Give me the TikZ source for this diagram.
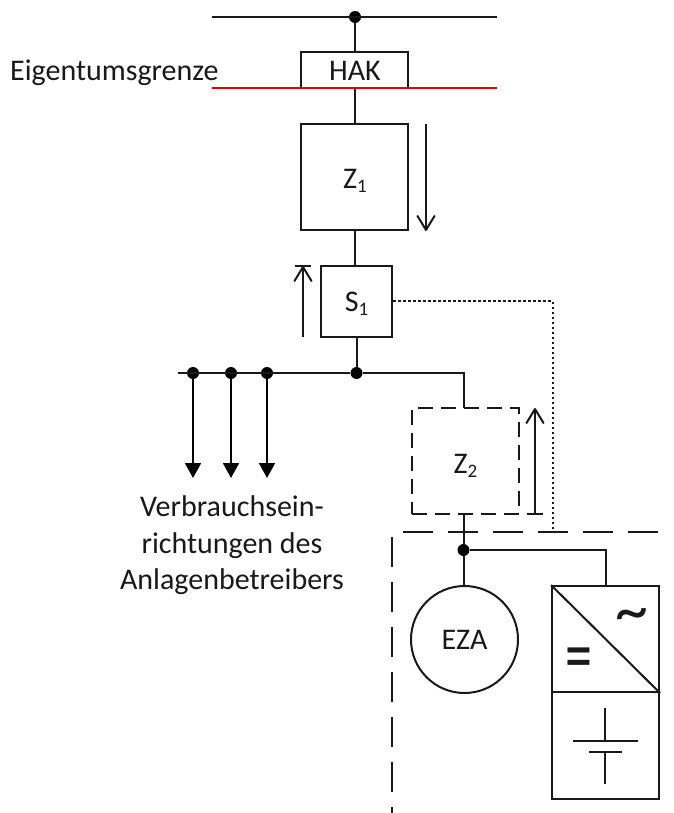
\documentclass[tikz,border=0pt]{standalone}
\usepackage{fontspec}
\setmainfont{Carlito}
\usetikzlibrary{arrows.meta}
\newcommand{\lbl}{\fontsize{30}{36.5}\selectfont}
\newcommand{\sbs}[1]{\raisebox{-4pt}{\fontsize{19}{20}\selectfont #1}}
\tikzset{
 x=1pt,y=-1pt,
 wire/.style={line width=2pt,black!90},
 box/.style={draw,line width=2pt,black!90,rectangle,inner sep=0pt,anchor=center,font=\lbl,text=black!90},
 dashbox/.style={box,dash pattern=on 15pt off 8pt},
 junction/.style={circle,fill=black,inner sep=0pt,minimum size=12pt},
 txt/.style={font=\lbl,text=black!90,inner sep=0pt},
 openarrow/.style={line width=2pt,black!90,-{Straight Barb[length=14pt,width=17pt,line width=2pt,round]}},
 loadarrow/.style={line width=2pt,black,-{Triangle[length=15pt,width=16pt]}},
 longdash/.style={line width=1.8pt,black!90,dash pattern=on 30pt off 15pt},
 dottedline/.style={line width=2pt,black!90,dash pattern=on 2.5pt off 2.5pt}
}
\begin{document}
\begin{tikzpicture}
\useasboundingbox (0,0) rectangle (673,813);
\fill[white] (0,0) rectangle (673,813);
% busbars
\coordinate (gl) at (212,17); \coordinate (gr) at (497,17);
\coordinate (rl) at (212,88); \coordinate (rr) at (497,88);
\node[junction] (top) at (355,17) {};
\draw[wire] (gl) -- (gr);
% boxes
\node[box,minimum width=107pt,minimum height=36pt] (hak) at (354.5,70) {};
\node[txt] (hakt) at (355,71) {HAK};
\node[box,minimum width=107pt,minimum height=106pt] (z1) at (354.5,177) {};
\node[txt] (z1t) at (355,181) {Z\sbs{1}};
\node[box,minimum width=71pt,minimum height=71pt] (s1) at (356.5,301.5) {};
\node[txt] (s1t) at (356.5,304) {S\sbs{1}};
\node[dashbox,minimum width=107pt,minimum height=106pt] (z2) at (465.5,461) {};
\node[txt] (z2t) at (465.5,466) {Z\sbs{2}};
\node[box,circle,minimum size=107pt] (eza) at (464.5,639.5) {EZA};
\node[box,minimum width=107pt,minimum height=106pt] (conv) at (605.5,639) {};
\node[box,minimum width=107pt,minimum height=107pt] (batt) at (605.5,745.5) {};
\draw[wire] (conv.north west) -- (conv.south east);
\node[txt,font=\fontsize{54}{54}\selectfont] (eq) at (578.5,665) {\scalebox{1}[1.45]{=}};
\node[txt,font=\fontsize{66}{66}\selectfont] (tilde) at (632,621) {\textasciitilde};
% battery
\coordinate (b1) at (605,708); \coordinate (b2) at (605,741);
\coordinate (b3) at (605,752); \coordinate (b4) at (605,784);
\coordinate (p1l) at (573,741); \coordinate (p1r) at (638,741);
\coordinate (p2l) at (589,752); \coordinate (p2r) at (622,752);
\draw[wire] (b1) -- (b2) (b3) -- (b4) (p1l) -- (p1r) (p2l) -- (p2r);
% connectors
\draw[wire] (top) -- (top |- hak.north);
\draw[wire] (hak.south) -- (z1.north);
\draw[wire] (z1.south) -- (z1.south |- s1.north);
\node[junction] (n1) at (356.5,373) {};
\draw[wire] (s1.south) -- (n1);
\node[junction] (l1) at (193,373) {};
\node[junction] (l2) at (231,373) {};
\node[junction] (l3) at (267,373) {};
\coordinate (lbeg) at (178,373);
\coordinate (e1) at (193,478); \coordinate (e2) at (231,478); \coordinate (e3) at (267,478);
\draw[wire] (lbeg) -- (n1) -| (463.5,408);
\draw[loadarrow] (l1) -- (e1);
\draw[loadarrow] (l2) -- (e2);
\draw[loadarrow] (l3) -- (e3);
\node[junction] (n2) at (463.5,550) {};
\draw[wire] (463.5,514) -- (n2);
\draw[wire] (n2) -- (n2 |- eza.north);
\draw[wire] (n2) -| (conv.north);
% red line
\draw[line width=2pt,red!90!black] (rl) -- (rr);
% measuring arrows
\coordinate (a1s) at (426,124); \coordinate (a1e) at (426,231);
\draw[openarrow] (a1s) -- (a1e);
\coordinate (a2s) at (303,337); \coordinate (a2e) at (303,266);
\draw[openarrow] (a2s) -- (a2e);
\coordinate (t2l) at (295,266); \coordinate (t2r) at (311,266);
\draw[wire] (t2l) -- (t2r);
\coordinate (a3s) at (535,514); \coordinate (a3e) at (535,408);
\draw[openarrow] (a3s) -- (a3e);
\coordinate (t3l) at (527,514); \coordinate (t3r) at (543,514);
\draw[wire] (t3l) -- (t3r);
% dotted control line and long dashed boundary
\coordinate (dc) at (552.5,301); \coordinate (de) at (552.5,532);
\draw[dottedline] (s1.east |- dc) -- (dc) -- (de);
\coordinate (hs) at (403,532); \coordinate (he) at (660,532);
\coordinate (vs) at (392,537); \coordinate (ve) at (392,813);
\draw[longdash] (hs) -- (he);
\draw[longdash] (vs) -- (ve);
% labels
\node[txt,anchor=west] (eg) at (10,73) {Eigentumsgrenze};
\node[txt,align=center] (vb) at (232,545.5) {Verbrauchsein-\\richtungen des\\Anlagenbetreibers};
\end{tikzpicture}
\end{document}
